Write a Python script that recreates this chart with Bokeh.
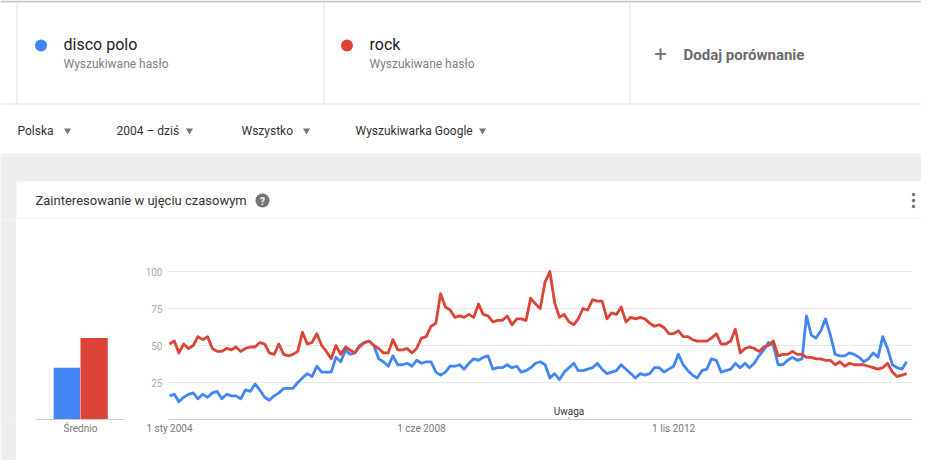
import pandas as pd
from bokeh.plotting import figure
from bokeh.layouts import column, row
from bokeh.models import Range1d, FactorRange, FixedTicker, Label, ColumnDataSource
from bokeh.transform import dodge
from bokeh.embed import file_html
from bokeh.resources import INLINE

# ---------------- data ----------------
series_names = ["disco polo", "rock"]
series_sub = "Wyszukiwane hasło"
series_colors = ["#4285f4", "#db4437"]
start_month = "2004-01-01"

disco_polo = [
    16, 17, 12, 15, 17, 18, 14, 17, 15, 18,
    19, 14, 17, 16, 16, 14, 20, 19, 24, 20,
    15, 13, 16, 18, 21, 21, 21, 25, 28, 31,
    29, 36, 32, 32, 32, 42, 39, 47, 44, 45,
    50, 52, 53, 50, 41, 39, 36, 43, 37, 37,
    38, 36, 40, 38, 39, 39, 32, 30, 32, 36,
    36, 37, 34, 38, 41, 40, 42, 43, 34, 35,
    35, 37, 35, 36, 32, 33, 35, 38, 39, 37,
    28, 31, 27, 32, 35, 38, 33, 33, 34, 35,
    38, 34, 31, 32, 33, 37, 34, 31, 28, 31,
    30, 31, 35, 35, 32, 34, 36, 44, 37, 33,
    30, 28, 33, 34, 41, 40, 32, 33, 34, 38,
    35, 38, 35, 38, 43, 47, 52, 50, 37, 37,
    40, 42, 40, 41, 70, 57, 55, 60, 68, 57,
    44, 43, 43, 45, 44, 42, 39, 41, 45, 42,
    56, 48, 37, 35, 34, 39,
]
rock = [
    51, 53, 45, 51, 48, 50, 56, 54, 56, 48,
    46, 46, 48, 47, 49, 46, 48, 49, 49, 52,
    51, 45, 44, 51, 44, 43, 44, 46, 59, 51,
    52, 58, 50, 46, 41, 50, 44, 49, 47, 45,
    49, 52, 53, 50, 48, 45, 45, 54, 47, 47,
    48, 45, 48, 55, 56, 63, 65, 85, 76, 74,
    69, 70, 69, 71, 69, 78, 71, 70, 66, 67,
    67, 70, 64, 68, 68, 67, 82, 78, 75, 93,
    100, 79, 69, 71, 66, 64, 68, 75, 74, 81,
    80, 80, 68, 72, 71, 76, 66, 69, 68, 69,
    68, 65, 63, 64, 62, 58, 58, 60, 56, 56,
    54, 53, 53, 53, 55, 58, 51, 51, 53, 61,
    45, 48, 49, 48, 46, 49, 50, 53, 43, 44,
    44, 46, 44, 44, 42, 42, 41, 41, 40, 40,
    37, 39, 36, 38, 37, 37, 37, 36, 35, 34,
    35, 38, 32, 29, 30, 31,
]
averages = [35, 55]
avg_label = "Średnio"
x_tick_dates = ["2004-01-01", "2008-06-01", "2012-11-01"]
x_tick_labels = ["1 sty 2004", "1 cze 2008", "1 lis 2012"]
y_ticks = [25, 50, 75, 100]
note_date = "2011-01-01"
note_text = "Uwaga"
filters = ["Polska", "2004 – dziś", "Wszystko", "Wyszukiwarka Google"]
add_text = "Dodaj porównanie"
card_title = "Zainteresowanie w ujęciu czasowym"

FONT = "Roboto"
GREY_BG = "#eeeeee"
LINE_GREY = "#e0e0e0"
W = 921


def ms(d):
    return int(pd.Timestamp(d).value // 10**6)


def pixel_fig(w, h, x0, y0, bg="white"):
    f = figure(width=w, height=h, x_range=Range1d(x0, x0 + w), y_range=Range1d(y0 + h, y0),
               output_backend="svg", toolbar_location=None, min_border=0,
               x_axis_location=None, y_axis_location=None, outline_line_color=None)
    f.xgrid.visible = False
    f.ygrid.visible = False
    f.background_fill_color = bg
    f.border_fill_color = bg
    return f


def label(f, x, y, text, size, color, style="normal", align="left"):
    f.add_layout(Label(x=x, y=y, text=text, text_font=FONT, text_font_size=size,
                       text_color=color, text_font_style=style, text_align=align,
                       text_baseline="middle"))


def style_axis(ax, color, standoff):
    ax.major_tick_line_color = None
    ax.minor_tick_line_color = None
    ax.major_tick_out = 0
    ax.major_tick_in = 0
    ax.minor_tick_out = 0
    ax.minor_tick_in = 0
    ax.major_label_text_font = FONT
    ax.major_label_text_font_size = "10px"
    ax.major_label_text_color = color
    ax.major_label_standoff = standoff


# ---------------- header (legend cards + filter bar) ----------------
header = pixel_fig(W, 155, 0, 0)
header.segment(x0=[0], y0=[1], x1=[W], y1=[1], line_color="#c8c8c8", line_width=2)
header.segment(x0=[16.5, 323.5, 629.5], y0=[2, 2, 2], x1=[16.5, 323.5, 629.5], y1=[103, 103, 103],
               line_color=LINE_GREY, line_width=1)
header.segment(x0=[0], y0=[103.5], x1=[W], y1=[103.5], line_color=LINE_GREY, line_width=1)
header.segment(x0=[0], y0=[154.5], x1=[W], y1=[154.5], line_color="#cfcfcf", line_width=1)
header.scatter(x=[40.5, 346.5], y=[45, 45], size=12, color=series_colors, line_color=None)
label(header, 63, 44, series_names[0], "16px", "#222222")
label(header, 63, 63, series_sub, "12px", "#808080")
label(header, 369, 44, series_names[1], "16px", "#222222")
label(header, 369, 63, series_sub, "12px", "#808080")
label(header, 660, 53, "+", "22px", "#757575", align="center")
label(header, 683, 54, add_text, "15px", "#6b6b6b", style="bold")
filter_x = [17, 116, 241, 355]
arrow_x = [67, 189, 306, 482]
for fx, txt in zip(filter_x, filters):
    label(header, fx, 130, txt, "12px", "#333333")
header.scatter(x=arrow_x, y=[130] * 4, marker="inverted_triangle", size=7,
               color="#757575", line_color=None)

# ---------------- card header ----------------
card_top = pixel_fig(W, 64, 0, 155, bg=GREY_BG)
card_top.quad(left=[16], right=[W], top=[181], bottom=[219], color="white", line_color=None)
card_top.segment(x0=[16], y0=[218.5], x1=[W], y1=[218.5], line_color=LINE_GREY, line_width=1)
label(card_top, 35, 200, card_title, "13px", "#333333")
card_top.scatter(x=[262], y=[200], size=14, color="#757575", line_color=None)
label(card_top, 262, 200.5, "?", "10px", "white", style="bold", align="center")
card_top.scatter(x=[913, 913, 913], y=[194, 200, 206], size=3.5, color="#757575", line_color=None)

# ---------------- left grey strip ----------------
BOTTOM_H = 241
strip = pixel_fig(16, BOTTOM_H, 0, 219, bg=GREY_BG)

# ---------------- average bars ----------------
Y_TOP = 200 / 1.48
bar_fig = figure(width=124, height=BOTTOM_H, x_range=FactorRange(avg_label), y_range=Range1d(0, Y_TOP),
                 output_backend="svg", toolbar_location=None, y_axis_location=None,
                 min_border_left=20, min_border_right=16, min_border_top=0, min_border_bottom=41,
                 outline_line_color=None)
bar_fig.xgrid.visible = False
bar_fig.ygrid.visible = False
bsrc = ColumnDataSource(dict(cat=[avg_label], disco=[averages[0]], rock=[averages[1]]))
bar_fig.vbar(x=dodge("cat", -0.155, range=bar_fig.x_range), top="disco", width=0.3,
             source=bsrc, color=series_colors[0], line_color=None)
bar_fig.vbar(x=dodge("cat", 0.155, range=bar_fig.x_range), top="rock", width=0.31,
             source=bsrc, color=series_colors[1], line_color=None)
bx = bar_fig.xaxis[0]
bx.axis_line_color = "#cccccc"
style_axis(bx, "#777777", 3)

# ---------------- time series ----------------
dates = pd.date_range(start_month, periods=len(disco_polo), freq="MS")
t0 = pd.Timestamp(start_month)
px_per_day = 252 / 1613.0
x_start = t0 - pd.Timedelta(days=1 / px_per_day)
x_end = t0 + pd.Timedelta(days=743 / px_per_day)

line_fig = figure(width=W - 140, height=BOTTOM_H, x_axis_type="datetime",
                  x_range=Range1d(x_start, x_end), y_range=Range1d(0, Y_TOP),
                  output_backend="svg", toolbar_location=None,
                  min_border_left=28, min_border_right=9, min_border_top=0, min_border_bottom=41,
                  outline_line_color=None)
line_fig.xgrid.visible = False
line_fig.ygrid.ticker = FixedTicker(ticks=y_ticks)
line_fig.ygrid.grid_line_color = "#e8e8e8"

ya = line_fig.yaxis[0]
ya.ticker = FixedTicker(ticks=y_ticks)
ya.axis_line_color = None
style_axis(ya, "#aaaaaa", 6)

xa = line_fig.xaxis[0]
tick_ms = [ms(d) for d in x_tick_dates]
xa.ticker = FixedTicker(ticks=tick_ms)
xa.major_label_overrides = {t: lab for t, lab in zip(tick_ms, x_tick_labels)}
xa.axis_line_color = "#cccccc"
style_axis(xa, "#777777", 3)

src = ColumnDataSource(dict(date=dates, disco=disco_polo, rock=rock))
line_fig.line("date", "disco", source=src, color=series_colors[0], line_width=2.8, line_join="round")
line_fig.line("date", "rock", source=src, color=series_colors[1], line_width=2.8, line_join="round")

note_ms = ms(note_date)
line_fig.segment(x0=[note_ms], y0=[0], x1=[note_ms], y1=[1.5], line_color="#999999", line_width=1)
line_fig.add_layout(Label(x=note_ms, y=5.4, text=note_text, text_font=FONT, text_font_size="10px",
                          text_color="#333333", text_align="center", text_baseline="middle"))

layout = column(header, card_top, row(strip, bar_fig, line_fig, spacing=0), spacing=0)

with open("out.html", "w") as fh:
    fh.write(file_html(layout, INLINE))
